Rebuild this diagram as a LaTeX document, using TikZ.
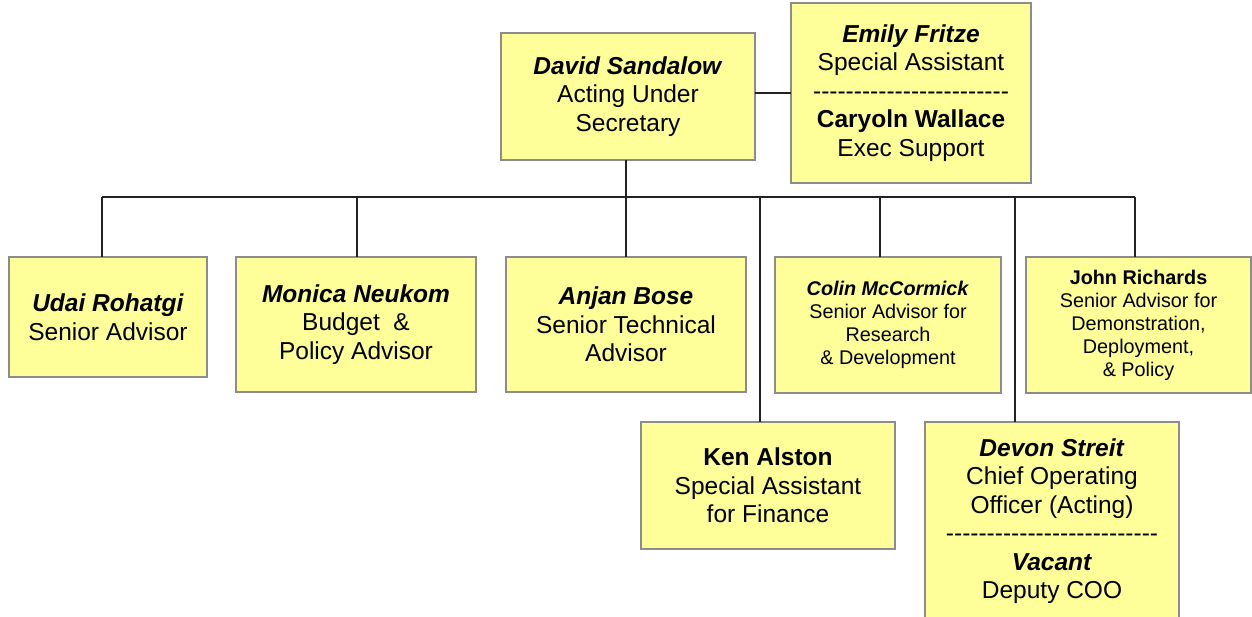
\documentclass[tikz,border=0pt]{standalone}
\usepackage{fontspec}
\setmainfont{Liberation Sans}[Ligatures=TeXOff]
\definecolor{boxfill}{HTML}{FFFF99}
\definecolor{boxline}{HTML}{8C8C8C}
\definecolor{conn}{HTML}{222222}
\tikzset{
  orgbox/.style={draw=boxline, fill=boxfill, line width=1.5pt, rectangle, inner sep=0pt, outer sep=0pt, align=center, font=\fontsize{24.5}{28.5}\selectfont},
  smallbox/.style={orgbox, font=\fontsize{19.8}{23}\selectfont},
  link/.style={draw=conn, line width=1.6pt}
}
\newcommand{\bi}[1]{\textbf{\textit{#1}}}
\begin{document}
\begin{tikzpicture}[x=1pt,y=-1pt]
\useasboundingbox (0,0) rectangle (1252,616);
\clip (0,0) rectangle (1252,616);
\fill[white] (0,0) rectangle (1252,616);
% boxes
\node[orgbox, minimum width=254, minimum height=127] (david) at (628,96.5) {\bi{David Sandalow}\\Acting Under\\Secretary};
\node[orgbox, minimum width=240, minimum height=180] (emily) at (911,93) {\bi{Emily Fritze}\\Special Assistant\\------------------------\\\textbf{Caryoln Wallace}\\Exec Support};
\node[orgbox, minimum width=198, minimum height=120] (udai) at (108,317) {\bi{Udai Rohatgi}\\Senior Advisor};
\node[orgbox, minimum width=240, minimum height=135] (monica) at (356,324.5) {\bi{Monica Neukom}\\Budget~ \&\\Policy Advisor};
\node[orgbox, minimum width=240, minimum height=135] (anjan) at (626,324.5) {\bi{Anjan Bose}\\Senior Technical\\Advisor};
\node[smallbox, minimum width=226, minimum height=136] (colin) at (888,325) {\bi{Colin McCormick}\\Senior Advisor for\\Research\\\& Development};
\node[smallbox, minimum width=225, minimum height=136] (john) at (1138.5,325) {\textbf{John Richards}\\Senior Advisor for\\Demonstration,\\Deployment,\\\& Policy};
\node[orgbox, minimum width=254, minimum height=127] (ken) at (768,485.5) {\textbf{Ken Alston}\\Special Assistant\\for Finance};
\node[orgbox, minimum width=254, minimum height=198] (devon) at (1052,521) {\bi{Devon Streit}\\Chief Operating\\Officer (Acting)\\--------------------------\\\bi{Vacant}\\Deputy COO};
% bus coordinates
\coordinate (bL) at (102,197);
\coordinate (bM) at (357,197);
\coordinate (bA) at (626,197);
\coordinate (bK) at (760,197);
\coordinate (bC) at (880,197);
\coordinate (bD) at (1015,197);
\coordinate (bJ) at (1135,197);
% connectors
\draw[link] (david.east |- emily.west) -- (emily.west);
\draw[link] (david.south -| bA) -- (bA);
\draw[link] (bL) -- (bJ);
\draw[link] (bL) -- (bL |- udai.north);
\draw[link] (bM) -- (bM |- monica.north);
\draw[link] (bA) -- (bA |- anjan.north);
\draw[link] (bK) -- (bK |- ken.north);
\draw[link] (bC) -- (bC |- colin.north);
\draw[link] (bD) -- (bD |- devon.north);
\draw[link] (bJ) -- (bJ |- john.north);
\end{tikzpicture}
\end{document}
